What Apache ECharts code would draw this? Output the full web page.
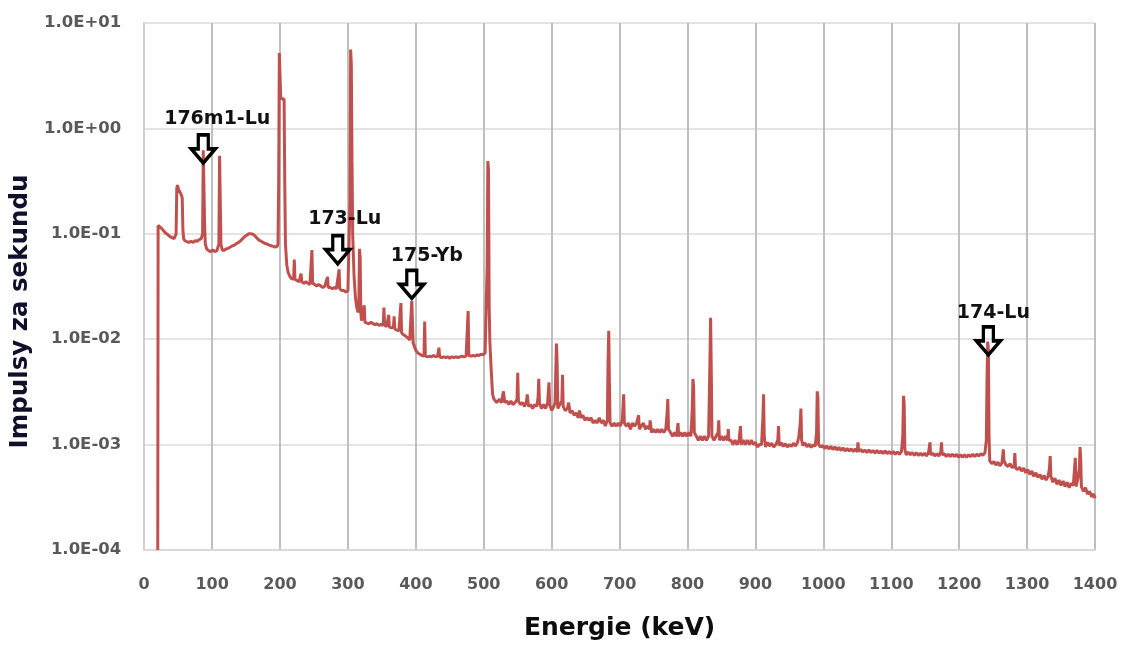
<!DOCTYPE html>
<html>
<head>
<meta charset="utf-8">
<script src="https://cdn.jsdelivr.net/npm/echarts@6/dist/echarts.min.js"></script>
<style>
html,body{margin:0;padding:0;background:#fff;}
#chart{width:1123px;height:646px;}
</style>
</head>
<body>
<div id="chart"></div>
<script>
// Axis tick labels
const xTickLabels = ['0','100','200','300','400','500','600','700','800','900','1000','1100','1200','1300','1400'];
const yTickLabels = ['1.0E-04','1.0E-03','1.0E-02','1.0E-01','1.0E+00','1.0E+01'];

// Spectrum [energy keV, pulses per second]
const spectrumLow = [
[20,0.0001],[20.5,0.12],[23,0.118],[26,0.112],[29,0.106],[32,0.101],[35,0.098],[38,0.094],[41,0.092],[44,0.09],[46,0.093],[47,0.1],[48,0.27],[49,0.29],[50,0.28],[51,0.26],[52,0.27],[53,0.25],[54,0.24],[55,0.25],[56,0.22],[57,0.11],[58,0.09],[60,0.086],[63,0.084],[66,0.083],[69,0.085],[72,0.083],[75,0.086],[78,0.085],[81,0.088],[84,0.09],[86,0.1],[87,0.62],[88,0.6],[89,0.12],[90,0.08],[92,0.072],[95,0.069],[98,0.068],[101,0.07],[104,0.068],[107,0.069],[109,0.071],[110,0.08],[111,0.55],[112,0.54],[113,0.08],[115,0.07],[118,0.07],[121,0.072],[124,0.073],[127,0.075],[130,0.077],[133,0.078],[136,0.081],[139,0.083],[142,0.086],[145,0.09],[148,0.094],[151,0.097],[154,0.1],[157,0.1],[160,0.099],[163,0.096],[166,0.091],[169,0.087],[172,0.085],[175,0.083],[178,0.081],[181,0.08],[184,0.078],[187,0.077],[190,0.076],[193,0.075],[196,0.076],[197,0.08],[198,0.3],[199,5.2],[200,5.0],[201,2.0],[203,1.9],[205,1.95],[206,1.9],[207,0.3],[208,0.08]
];
const spectrumMid = [
[210,0.05],[212,0.043],[214,0.04],[216,0.038],[218,0.037],[220,0.037],[221,0.057],[222,0.037],[225,0.036],[228,0.035],[230,0.036],[231,0.042],[232,0.035],[235,0.034],[238,0.035],[241,0.034],[244,0.033],[246,0.034],[247,0.07],[248,0.034],[251,0.033],[254,0.032],[257,0.033],[260,0.032],[263,0.031],[266,0.032],[268,0.031],[270,0.039],[271,0.031],[274,0.031],[277,0.03],[280,0.031],[283,0.03],[285,0.031],[287,0.046],[288,0.03],[291,0.029],[294,0.029],[297,0.028],[300,0.029],[302,0.03],[303,0.2],[304,5.6],[305,4.0],[306,0.5],[307,0.1],[309,0.04],[311,0.025],[313,0.02],[315,0.018],[316,0.02],[317,0.072],[318,0.06],[319,0.018],[320,0.015],[322,0.0145],[324,0.021],[325,0.0145],[328,0.0142],[331,0.014],[334,0.0145],[337,0.014],[340,0.0138],[343,0.014],[346,0.0135],[349,0.0138],[352,0.0135],[353,0.02],[354,0.0135],[357,0.0132],[360,0.017],[361,0.013],[364,0.0128],[367,0.013],[368,0.0165],[369,0.0125],[372,0.0122],[375,0.012],[377,0.0118],[378,0.022],[379,0.0115],[382,0.011],[385,0.0107],[388,0.0103],[391,0.0098],[393,0.0095],[394,0.023],[395,0.024],[396,0.0092],[398,0.0085],[400,0.0078],[403,0.0074],[406,0.0072],[409,0.007],[412,0.0069],[413,0.0147],[414,0.0069],[417,0.0068],[420,0.0069],[423,0.0068],[426,0.007],[429,0.0068],[432,0.0069],[434,0.0083],[435,0.0068],[438,0.0067],[441,0.0068],[444,0.0067],[447,0.0068],[450,0.0066],[453,0.0068],[456,0.0067],[459,0.0068],[462,0.0067],[465,0.0068],[468,0.0069],[471,0.0068],[474,0.0069],[476,0.007],[477,0.0185],[478,0.007],[481,0.0069],[484,0.007],[487,0.0069],[490,0.0071],[493,0.007],[496,0.0072],[499,0.0071],[502,0.0074],[504,0.0075],[505,0.05],[506,0.49],[507,0.4],[508,0.02],[509,0.0094],[511,0.005],[513,0.003]
];
const spectrumHigh1 = [
[515,0.0027],[519,0.0025],[523,0.0027],[526,0.0025],[529,0.0032],[531,0.0025],[534,0.0026],[537,0.0024],[540,0.0026],[543,0.0024],[546,0.0025],[549,0.0027],[550,0.0048],[551,0.0026],[554,0.0024],[557,0.0025],[560,0.0023],[563,0.0026],[564,0.003],[566,0.0023],[569,0.0024],[572,0.0022],[575,0.0024],[578,0.0023],[580,0.0028],[581,0.0042],[582,0.0025],[585,0.0022],[588,0.0024],[591,0.0022],[594,0.0025],[596,0.0039],[597,0.0024],[600,0.0021],[603,0.0023],[605,0.0025],[607,0.0091],[608,0.006],[609,0.0022],[612,0.0024],[615,0.0026],[616,0.0046],[617,0.0023],[620,0.0021],[623,0.0022],[625,0.0025],[627,0.002],[630,0.0021],[633,0.0019],[636,0.002],[639,0.0018],[641,0.0021],[643,0.0018],[646,0.0019],[649,0.0017],[652,0.0018],[655,0.0017],[658,0.0018],[661,0.0016],[664,0.0017],[667,0.0016],[670,0.0018],[673,0.0016],[676,0.0017],[679,0.0015],[682,0.0017],[683,0.006],[684,0.012],[685,0.004],[686,0.0016],[689,0.0015],[692,0.0016],[695,0.0015],[698,0.0016],[701,0.0015],[704,0.0017],[706,0.003],[707,0.0016],[710,0.0015],[713,0.0016],[716,0.0014],[719,0.0016],[722,0.0015],[725,0.0016],[728,0.0019],[729,0.0014],[732,0.0015],[735,0.0016],[738,0.0014],[741,0.0015],[744,0.0014],[745,0.0017],[747,0.0013],[750,0.0014],[753,0.0013],[756,0.0014],[759,0.0013],[762,0.0014],[765,0.0013],[768,0.0014],[770,0.002],[771,0.0027],[772,0.0014],[775,0.0013],[778,0.0012],[781,0.0013],[784,0.0012],[786,0.0016],[787,0.0012],[790,0.0013],[793,0.0012],[796,0.0013],[799,0.0012],[802,0.0013],[805,0.0012],[807,0.0022],[808,0.0042],[809,0.0035],[810,0.0013],[813,0.0012],[816,0.0011],[819,0.0012],[822,0.0011],[825,0.0012],[828,0.0011],[831,0.0012],[833,0.006],[834,0.016],[835,0.005],[836,0.0012],[839,0.0011],[842,0.0012],[845,0.0013],[846,0.0017],[847,0.0011],[850,0.0012],[853,0.0011],[856,0.0012],[859,0.0011],[860,0.0014],[861,0.0011],[864,0.0011],[867,0.001],[870,0.0011],[873,0.001],[876,0.0011],[878,0.0015],[879,0.001],[882,0.0011],[885,0.001],[888,0.0011],[891,0.001],[894,0.0011],[897,0.001],[900,0.00105],[903,0.00095],[906,0.001],[909,0.001],[911,0.0018],[912,0.003],[913,0.0012],[915,0.00095],[918,0.00105],[921,0.00097],[924,0.00103],[927,0.00095],[930,0.001],[933,0.0011],[934,0.0015],[935,0.00098],[938,0.00104],[941,0.00096],[944,0.00102],[947,0.00095],[950,0.001],[953,0.00096],[956,0.00103],[959,0.00097],[962,0.00105],[964,0.0012],[966,0.0016],[967,0.0022],[968,0.0011],[970,0.00098],[973,0.00104],[976,0.00095],[979,0.00101],[982,0.00094],[985,0.001],[988,0.00096],[990,0.0013],[991,0.0032],[992,0.0028],[993,0.001],[996,0.00095]
];
const spectrumHigh2 = [
[999,0.00098],[1002,0.00092],[1005,0.00097],[1008,0.00091],[1011,0.00096],[1014,0.0009],[1017,0.00095],[1020,0.00089],[1023,0.00094],[1026,0.00088],[1029,0.00093],[1032,0.00087],[1035,0.00092],[1038,0.00087],[1041,0.00091],[1044,0.00086],[1047,0.00091],[1050,0.00085],[1051,0.00105],[1052,0.00086],[1055,0.0009],[1058,0.00085],[1061,0.00089],[1064,0.00084],[1067,0.00089],[1070,0.00084],[1073,0.00088],[1076,0.00083],[1079,0.00088],[1082,0.00083],[1085,0.00087],[1088,0.00082],[1091,0.00087],[1094,0.00082],[1097,0.00086],[1100,0.00082],[1103,0.00086],[1106,0.00081],[1109,0.00085],[1112,0.00081],[1115,0.00086],[1117,0.0012],[1118,0.0029],[1119,0.0025],[1120,0.0009],[1122,0.0008],[1125,0.00085],[1128,0.0008],[1131,0.00084],[1134,0.00079],[1137,0.00084],[1140,0.00079],[1143,0.00083],[1146,0.00079],[1149,0.00083],[1152,0.00078],[1155,0.00085],[1157,0.00105],[1158,0.0008],[1161,0.00083],[1164,0.00078],[1167,0.00082],[1170,0.00078],[1173,0.00085],[1174,0.00105],[1175,0.0008],[1178,0.00082],[1181,0.00077],[1184,0.00081],[1187,0.00077],[1190,0.00081],[1193,0.00077],[1196,0.00081],[1199,0.00076],[1202,0.0008],[1205,0.00076],[1208,0.0008],[1211,0.00076],[1214,0.0008],[1217,0.00077],[1220,0.00081],[1223,0.00077],[1226,0.00081],[1229,0.00078],[1232,0.00082],[1235,0.00079],[1238,0.00084],[1240,0.0011],[1241,0.004],[1242,0.0095],[1243,0.008],[1244,0.0012],[1245,0.0007],[1248,0.00066],[1251,0.00069],[1254,0.00064],[1257,0.00068],[1260,0.00063],[1263,0.00067],[1265,0.0009],[1266,0.0007],[1269,0.00064],[1272,0.00062],[1275,0.00066],[1278,0.0006],[1281,0.00064],[1282,0.00083],[1283,0.0006],[1286,0.00058],[1289,0.00061],[1292,0.00056],[1295,0.0006],[1298,0.00054],[1301,0.00058],[1304,0.00052],[1307,0.00056],[1310,0.0005],[1313,0.00054],[1316,0.00049],[1319,0.00052],[1322,0.00047],[1325,0.00051],[1328,0.00046],[1331,0.0005],[1333,0.0006],[1334,0.00078],[1335,0.0005],[1338,0.00044],[1341,0.00048],[1344,0.00042],[1347,0.00046],[1350,0.00041],[1353,0.00045],[1356,0.0004],[1359,0.00044],[1362,0.00039],[1365,0.00043],[1368,0.00041],[1370,0.0006],[1371,0.00075],[1372,0.0004],[1375,0.00048],[1377,0.0006],[1378,0.00095],[1379,0.0007],[1380,0.0004],[1383,0.00036],[1386,0.00039],[1389,0.00034],[1392,0.00036],[1395,0.00032],[1398,0.00034],[1400,0.00031]
];

// Annotations: nuclide label, energy of marked peak, value at arrow tip
const annoLabels = ['176m1-Lu','173-Lu','175-Yb','174-Lu'];
const annoEnergy = [87, 285, 394, 1243];
const annoValue = [0.47, 0.052, 0.0244, 0.0071];

const spectrum = spectrumLow.concat(spectrumMid, spectrumHigh1, spectrumHigh2);

const FONT = 'DejaVu Sans';
const arrowPath = 'path://M7,0 L17,0 L17,14 L24,14 L12,28 L0,14 L7,14 Z';
const labelOffsets = [[14,0],[7,0],[15,2],[5,3]];

const chart = echarts.init(document.getElementById('chart'), null, {renderer:'canvas'});
chart.setOption({
  animation:false,
  backgroundColor:'#ffffff',
  grid:{left:143, right:28, top:23, bottom:89, containLabel:false},
  xAxis:{
    type:'value', min:0, max:1400, interval:100,
    name:'Energie (keV)', nameLocation:'middle', nameGap:66,
    nameTextStyle:{fontFamily:FONT, fontWeight:'bold', fontSize:25, color:'#0d0d0d'},
    axisLine:{show:true, lineStyle:{color:'#d9d9d9', width:2}},
    axisTick:{show:false},
    axisLabel:{margin:27, fontFamily:FONT, fontWeight:'bold', fontSize:16, color:'#595959',
      formatter:(v)=>xTickLabels[Math.round(v/100)]},
    splitLine:{show:true, lineStyle:{color:'#bfbfbf', width:2}}
  },
  yAxis:{
    type:'log', logBase:10, min:0.0001, max:10,
    name:'Impulsy za sekundu', nameLocation:'middle', nameGap:106, nameRotate:90,
    nameTextStyle:{fontFamily:FONT, fontWeight:'bold', fontSize:24.5, color:'#10102a', padding:[0,50,0,0]},
    axisLine:{show:true, lineStyle:{color:'#cfcfcf', width:2}},
    axisTick:{show:false},
    axisLabel:{margin:23, fontFamily:FONT, fontWeight:'bold', fontSize:16.5, color:'#595959',
      formatter:(v)=>yTickLabels[Math.round(Math.log10(v))+4]},
    splitLine:{show:true, lineStyle:{color:'#e3e3e3', width:2}}
  },
  series:[{
    type:'line',
    data:spectrum,
    showSymbol:false,
    lineStyle:{color:'#c0504d', width:3},
    itemStyle:{color:'#c0504d'},
    markPoint:{
      symbol:arrowPath,
      symbolSize:[24,28],
      symbolOffset:[0,-14],
      symbolKeepAspect:false,
      itemStyle:{color:'rgba(255,255,255,0)', borderColor:'#000', borderWidth:3.5},
      label:{show:true, position:'top', distance:5, fontFamily:FONT, fontWeight:'bold', fontSize:19, color:'#111',
        formatter:(p)=>p.name},
      data:annoLabels.map((n,i)=>({name:n, coord:[annoEnergy[i], annoValue[i]],
        label:{offset:labelOffsets[i]}}))
    }
  }]
});
</script>
</body>
</html>
